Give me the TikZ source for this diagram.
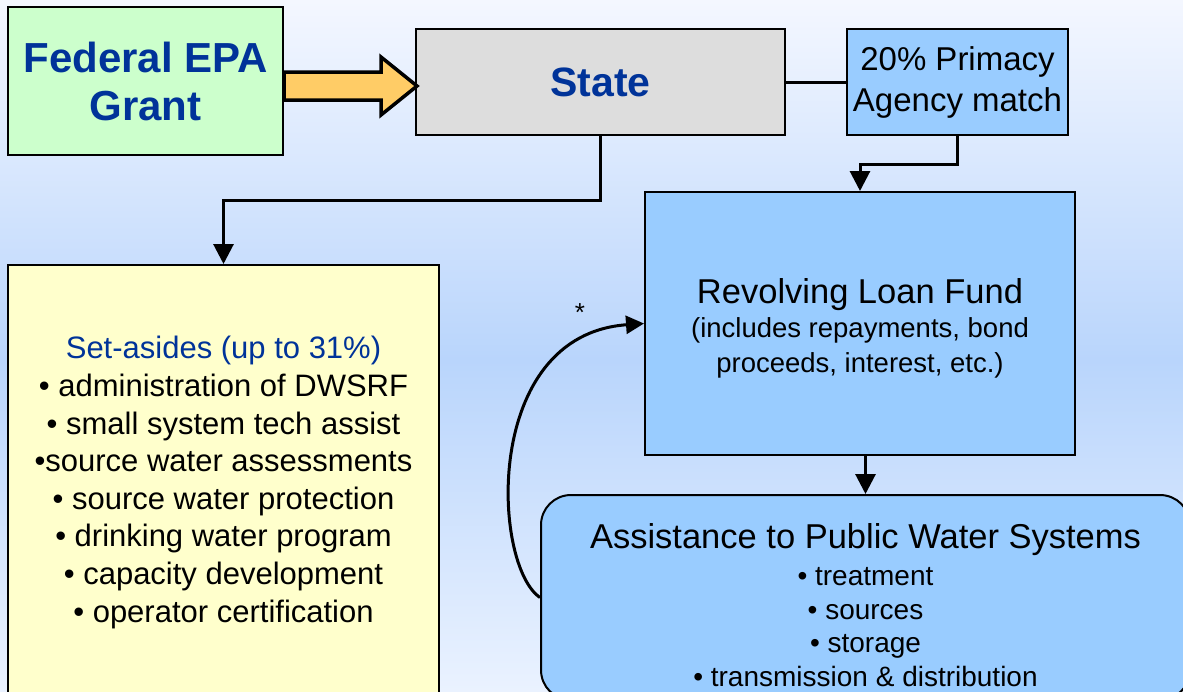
\documentclass[tikz,border=0pt]{standalone}
\usepackage{fontspec}
\setmainfont{Liberation Sans}
\usetikzlibrary{arrows.meta,calc}
\definecolor{epablue}{HTML}{003399}
\definecolor{bgtop}{HTML}{F4F7FF}
\definecolor{bgmid}{HTML}{B9D5FC}
\definecolor{bgbot}{HTML}{EAF2FF}
\definecolor{grantgreen}{HTML}{CCFFCC}
\definecolor{stategray}{HTML}{DDDDDD}
\definecolor{boxblue}{HTML}{99CCFF}
\definecolor{asideyellow}{HTML}{FFFFCC}
\definecolor{arroworange}{HTML}{FFCC66}
\begin{document}
\begin{tikzpicture}[x=1pt,y=-1pt,
  box/.style={draw=black, line width=2pt, inner sep=0pt, align=center},
  txt/.style={inner sep=0pt, align=center},
  conn/.style={line width=3pt, -{Triangle[length=20pt,width=20pt]}},
  link/.style={line width=3pt}]
\shade[top color=bgtop, bottom color=bgmid] (0,0) rectangle (1183,360);
\shade[top color=bgmid, bottom color=bgbot] (0,360) rectangle (1183,691);
\useasboundingbox (0,0) rectangle (1183,691);

\node[box, fill=grantgreen, minimum width=275pt, minimum height=148pt, text=epablue,
      font=\bfseries\fontsize{42}{48}\selectfont] (grant) at (145.5,81) {Federal EPA\\Grant};
\node[box, fill=stategray, minimum width=369pt, minimum height=106pt, text=epablue,
      font=\bfseries\fontsize{41}{48}\selectfont] (state) at (600.5,82) {State};
\node[box, fill=boxblue, minimum width=221pt, minimum height=106pt,
      font=\fontsize{33}{41}\selectfont] (match) at (957.5,82) {20\% Primacy\\Agency match};
\node[box, fill=boxblue, minimum width=430pt, minimum height=263pt] (rlf) at (860,323.5) {};
\node[txt, font=\fontsize{27.5}{34.5}\selectfont] (rlftext) at (860,328)
  {{\fontsize{34.5}{34.5}\selectfont Revolving Loan Fund}\\(includes repayments, bond\\proceeds, interest, etc.)};
\node[box, fill=asideyellow, minimum width=431pt, minimum height=435pt,
      font=\fontsize{31}{37.6}\selectfont] (aside) at (223.5,482.5)
  {{\color{epablue}Set-asides (up to 31\%)}\\
   • administration of DWSRF\\
   • small system tech assist\\
   •source water assessments\\
   • source water protection\\
   • drinking water program\\
   • capacity development\\
   • operator certification};
\node[box, fill=boxblue, rounded corners=30pt, minimum width=649pt, minimum height=205pt] (apws) at (865.5,597.5) {};
\node[txt, font=\fontsize{28}{33.5}\selectfont] (apwstext) at (865.5,605)
  {{\fontsize{34.5}{33.5}\selectfont Assistance to Public Water Systems}\\[3.5pt]
   • treatment\\ • sources\\ • storage\\ • transmission \& distribution};
\node[txt, font=\fontsize{26}{30}\selectfont] (star) at (580,313) {*};

% block arrow Federal -> State
\draw[fill=arroworange, line width=3.5pt, line join=miter]
  ($(grant.east)+(0,-9)$) -- ($(grant.east)+(97,-9)$) -- ($(grant.east)+(97,-24)$)
  -- ($(state.west)+(2,4)$) -- ($(grant.east)+(97,34)$) -- ($(grant.east)+(97,19)$)
  -- ($(grant.east)+(0,19)$) -- cycle;

% connectors
\draw[link] (state.east) -- (match.west);
\draw[conn] (state.south) -- ++(0,64) -| (aside.north);
\draw[conn] (match.south) -- ++(0,28) -| (rlf.north);
\draw[conn] (rlf.south -| apws.north) -- (apws.north);
\draw[line width=3pt, -{Triangle[length=18pt,width=18pt]}]
  (apws.west) .. controls (492,565) and (482,335) .. (rlf.west);
\end{tikzpicture}
\end{document}
